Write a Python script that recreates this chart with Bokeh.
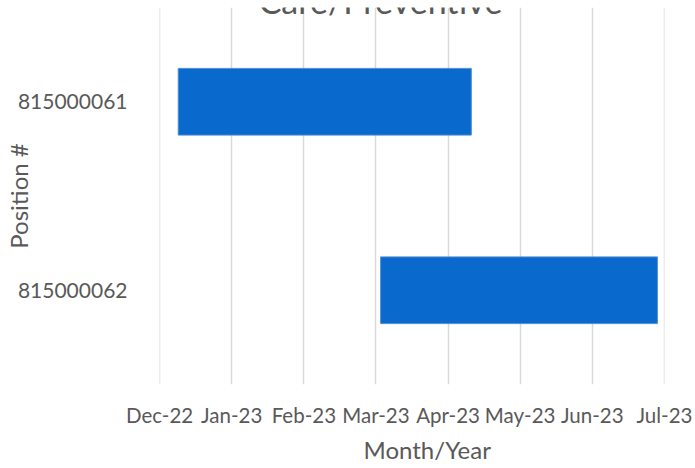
import pandas as pd
from bokeh.plotting import figure
from bokeh.models import FactorRange, Range1d, FixedTicker, DatetimeTickFormatter, Label, Title, ColumnDataSource
from bokeh.embed import file_html
from bokeh.resources import INLINE

# ---- data ----
positions = ["815000061", "815000062"]
start_dates = ["2022-12-09", "2023-03-06"]
end_dates = ["2023-04-14", "2023-07-03"]
tick_dates = ["2022-12-01", "2023-01-01", "2023-02-01", "2023-03-04",
              "2023-04-04", "2023-05-05", "2023-06-05", "2023-07-06"]
title_text = "Care/Preventive"
x_title = "Month/Year"
y_title = "Position #"

FONT = "Lato"
TXT = "#595959"

def ms(d):
    return pd.Timestamp(d).value / 1e6

source = ColumnDataSource(dict(
    pos=positions,
    start=[pd.Timestamp(d) for d in start_dates],
    end=[pd.Timestamp(d) for d in end_dates],
))

ticks = [ms(d) for d in tick_dates]
pad = 3600 * 1000  # one hour, keeps the edge gridlines inside the range

p = figure(
    width=695, height=468,
    x_axis_type="datetime",
    y_range=FactorRange(factors=list(reversed(positions)), range_padding=0),
    x_range=Range1d(ticks[0] - pad, ticks[-1] + pad),
    output_backend="svg", toolbar_location=None,
    min_border_left=159, min_border_right=31, min_border_top=7, min_border_bottom=84,
)
p.outline_line_color = None
p.background_fill_color = "white"
p.border_fill_color = "white"

p.hbar(y="pos", left="start", right="end", height=0.354, source=source,
       fill_color="#0A69CC", line_color="#4F8FD6", line_width=1)

# x axis
p.xaxis.ticker = FixedTicker(ticks=ticks)
p.xaxis.formatter = DatetimeTickFormatter(days="%b-%y", months="%b-%y", years="%b-%y")
p.xaxis.axis_line_color = None
p.xaxis.major_tick_line_color = None
p.xaxis.minor_tick_line_color = None
p.xaxis.major_label_text_font = FONT
p.xaxis.major_label_text_font_size = "20.5px"
p.xaxis.major_label_text_color = TXT
p.xaxis.major_label_standoff = 12

# y axis
p.yaxis.axis_line_color = None
p.yaxis.major_tick_line_color = None
p.yaxis.minor_tick_line_color = None
p.yaxis.major_label_text_font = FONT
p.yaxis.major_label_text_font_size = "21px"
p.yaxis.major_label_text_color = TXT
p.yaxis.major_label_standoff = 26
p.yaxis.axis_label = y_title
p.yaxis.axis_label_text_font = FONT
p.yaxis.axis_label_text_font_size = "24px"
p.yaxis.axis_label_text_font_style = "normal"
p.yaxis.axis_label_text_color = TXT
p.yaxis.axis_label_standoff = -18

# grid
p.xgrid.ticker = FixedTicker(ticks=ticks)
p.xgrid.grid_line_color = "#D9D9D9"
p.xgrid.grid_line_width = 1.5
p.ygrid.grid_line_color = None

# x-axis title
p.add_layout(Title(text=x_title, align="left", offset=204, standoff=7,
                   text_font=FONT, text_font_size="24px", text_font_style="normal",
                   text_color=TXT), "below")

# chart title (partly above the top edge, as in the reference)
p.add_layout(Label(x=221, y=384, x_units="screen", y_units="screen", text=title_text,
                   text_font=FONT, text_font_size="34px", text_color=TXT,
                   text_align="center", text_baseline="middle"))

open("out.html", "w").write(file_html(p, INLINE))
